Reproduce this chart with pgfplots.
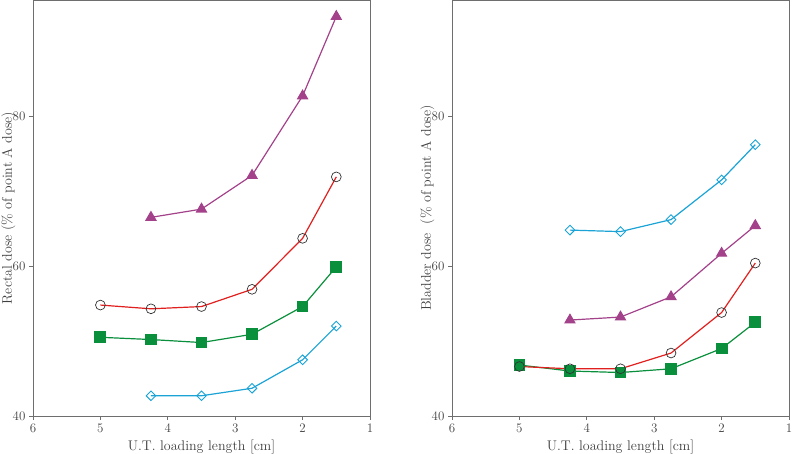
\documentclass[border=0pt]{standalone}
\usepackage{pgfplots}
\pgfplotsset{compat=1.18}
\definecolor{cmag}{RGB}{163,65,138}
\definecolor{cred}{RGB}{224,32,30}
\definecolor{cgrn}{RGB}{10,143,60}
\definecolor{ccyan}{RGB}{27,163,214}
\definecolor{caxis}{RGB}{110,110,110}
\pgfplotsset{
  myaxis/.style={
    scale only axis, width=337pt, height=416pt,
    x dir=reverse, xmin=1, xmax=6, ymin=40, ymax=95.5,
    xtick={1,2,3,4,5,6}, ytick={40,60,80},
    axis line style={caxis, line width=0.8pt},
    tick style={caxis, line width=0.8pt},
    tick align=outside, major tick length=4pt,
    xtick pos=bottom, ytick pos=left,
    /pgf/number format/assume math mode=true,
    ticklabel style={font=\fontsize{13}{15}\selectfont, text=black!75},
    xlabel={U.T. loading length [cm]},
    every axis x label/.style={at={(axis description cs:0.5,0)}, yshift=-31pt, anchor=center, font=\fontsize{14}{16}\selectfont, text=black!75},
    every axis y label/.style={at={(axis description cs:0,0.5)}, xshift=-24.5pt, rotate=90, anchor=center, font=\fontsize{14}{16}\selectfont, text=black!75},
    every axis plot/.append style={line width=1.2pt},
  },
  smag/.style={cmag, mark=triangle*, mark size=5.6pt, mark options={fill=cmag, draw=cmag}},
  sred/.style={cred, mark=o, mark size=4.9pt, mark options={fill=white, draw=black!80, line width=0.7pt}},
  sgrn/.style={cgrn, mark=square*, mark size=5.3pt, mark options={fill=cgrn, draw=cgrn}},
  scyan/.style={ccyan, mark=square, mark size=3.4pt, mark options={rotate=45, fill=white, draw=ccyan, line width=0.9pt}},
}
\begin{document}
\begin{tikzpicture}
\path[use as bounding box] (-33pt,-38pt) rectangle (759pt,416pt);
\begin{axis}[myaxis, at={(0pt,0pt)}, anchor=south west, ylabel={Rectal dose (\% of point A dose)}]
\addplot[smag] coordinates {(4.25,66.5) (3.5,67.6) (2.75,72.1) (2,82.7) (1.5,93.3)};
\addplot[sred] coordinates {(5,54.8) (4.25,54.3) (3.5,54.6) (2.75,56.9) (2,63.7) (1.5,71.9)};
\addplot[sgrn] coordinates {(5,50.5) (4.25,50.2) (3.5,49.8) (2.75,50.9) (2,54.6) (1.5,59.9)};
\addplot[scyan] coordinates {(4.25,42.7) (3.5,42.7) (2.75,43.7) (2,47.5) (1.5,52.0)};
\end{axis}
\begin{axis}[myaxis, at={(419pt,0pt)}, anchor=south west, ylabel={Bladder dose\ \ (\% of point A dose)}]
\addplot[scyan] coordinates {(4.25,64.8) (3.5,64.6) (2.75,66.2) (2,71.5) (1.5,76.2)};
\addplot[smag] coordinates {(4.25,52.8) (3.5,53.2) (2.75,55.9) (2,61.7) (1.5,65.4)};
\addplot[sgrn] coordinates {(5,46.8) (4.25,46.0) (3.5,45.8) (2.75,46.3) (2,49.0) (1.5,52.5)};
\addplot[sred] coordinates {(5,46.6) (4.25,46.3) (3.5,46.3) (2.75,48.4) (2,53.8) (1.5,60.4)};
\end{axis}
\end{tikzpicture}
\end{document}
